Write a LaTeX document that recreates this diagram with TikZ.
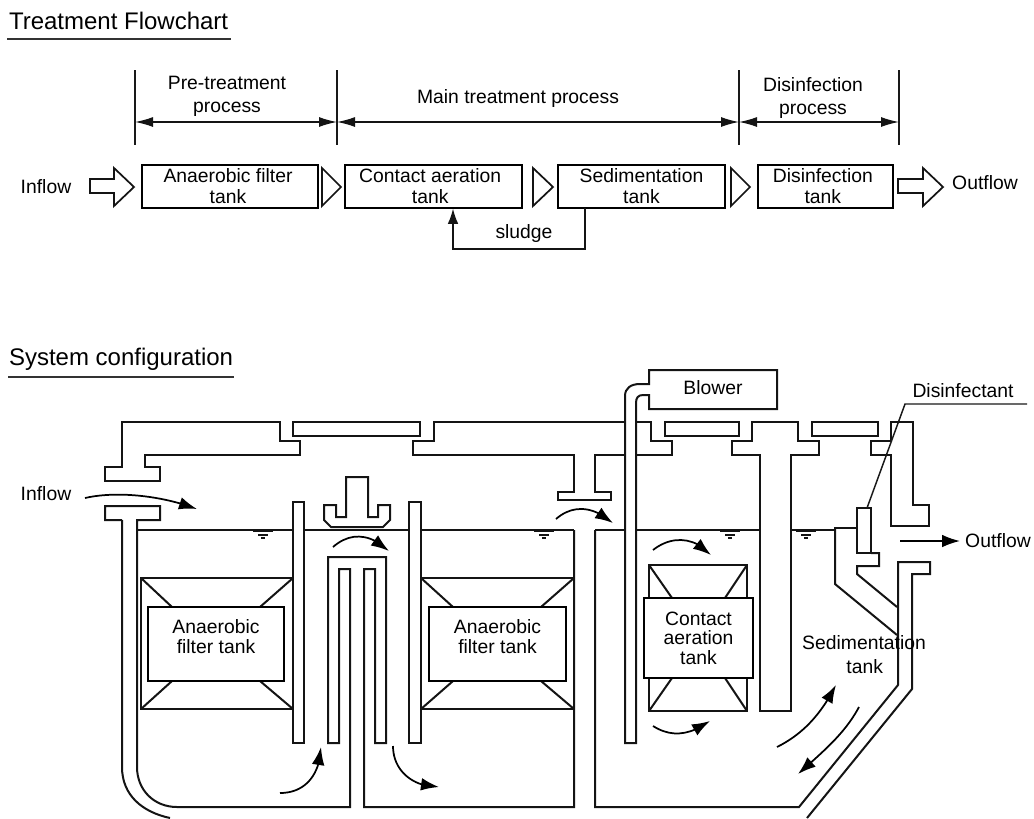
\documentclass[tikz,border=0pt]{standalone}
\usepackage{fontspec}
\setmainfont{Liberation Sans}
\usetikzlibrary{arrows.meta,bending}
\tikzset{
  x=0.75pt,y=-0.75pt,
  txt/.style={inner sep=0pt,outer sep=0pt,align=center,text=black,font=\fontsize{14.5}{15.3}\selectfont},
  toptxt/.style={txt,font=\fontsize{14.5}{17.5}\selectfont},
  titletxt/.style={inner sep=0pt,outer sep=0pt,anchor=west,text=black,font=\fontsize{18}{20}\selectfont},
  tank/.style={draw,line width=1.5pt,inner sep=0pt,outer sep=0pt,align=center,text=black,font=\fontsize{14.5}{15.8}\selectfont},
  wall/.style={line width=1.5pt,line join=miter,draw=black!92},
  thin wall/.style={line width=1.1pt,draw=black!90},
  hollow/.style={line width=1.3pt,line join=miter,draw=black!92},
  rule/.style={line width=1pt,draw=black!80},
  dim/.style={line width=1pt,draw=black!92,{Latex[length=13.5pt,width=7.5pt]}-{Latex[length=13.5pt,width=7.5pt]}},
  flowarrow/.style={line width=1.3pt,draw=black,-{Latex[length=13.5pt,width=9.5pt,flex=1]}},
  sludgeline/.style={line width=1.3pt,draw=black!92,dash pattern=on 1.2pt off 0.3pt,-{Latex[length=11.5pt,width=8pt]}},
  level/.style={line width=1pt,draw=black!92}
}
\begin{document}
\begin{tikzpicture}
\useasboundingbox (0,0) rectangle (1034,818);
% ---- titles
\node[titletxt] (t1) at (9,21) {Treatment Flowchart};
\coordinate (t1a) at (7,39); \coordinate (t1b) at (231,39);
\draw[rule] (t1a) -- (t1b);
\node[titletxt] (t2) at (9,359) {System configuration};
\coordinate (t2a) at (8,377); \coordinate (t2b) at (234,377);
\draw[rule] (t2a) -- (t2b);
% ---- dimension lines
\foreach \n/\xx in {a/135,b/337,c/739,d/899}{
  \coordinate (tick\n top) at (\xx,70);
  \coordinate (tick\n bot) at (\xx,145);
  \coordinate (tick\n mid) at (\xx,122);
  \draw[thin wall] (tick\n top) -- (tick\n bot);
}
\draw[dim] (tickamid) -- (tickbmid);
\draw[dim] (tickbmid) -- (tickcmid);
\draw[dim] (tickcmid) -- (tickdmid);
\node[toptxt] (l1) at (227,96.5) {Pre-treatment\\process};
\node[toptxt] (l2) at (518,98) {Main treatment process};
\node[toptxt] (l3) at (813,98) {Disinfection\\process};
% ---- flow boxes
\node[tank,minimum width=132pt,minimum height=32.25pt] (b1) at (230,186.5) {\hspace*{-3pt}Anaerobic filter\\\hspace*{-3pt}tank};
\node[tank,minimum width=132.75pt,minimum height=32.25pt] (b2) at (433.5,186.5) {\hspace*{-5pt}Contact aeration\\\hspace*{-5pt}tank};
\node[tank,minimum width=125.25pt,minimum height=32.25pt] (b3) at (641.5,186.5) {Sedimentation\\tank};
\node[tank,minimum width=101.25pt,minimum height=32.25pt] (b4) at (825.5,186.5) {\hspace*{-4pt}Disinfection\\\hspace*{-4pt}tank};
\node[toptxt] (inf1) at (46,187) {Inflow};
\node[toptxt] (outf1) at (985,183) {Outflow};
\node[toptxt] (sl) at (524,233) {sludge};
% hollow arrows
\draw[hollow] (90,179) -- (114,179) -- (114,168) -- (134,187) -- (114,206) -- (114,193) -- (90,193) -- cycle;
\draw[hollow] (898,179) -- (923,179) -- (923,168) -- (943,187) -- (923,206) -- (923,193) -- (898,193) -- cycle;
\draw[hollow] (322,168) -- (341,187) -- (322,206) -- cycle;
\draw[hollow] (533,168) -- (553,187) -- (533,206) -- cycle;
\draw[hollow] (731,168) -- (750,187) -- (731,206) -- cycle;
% sludge connector
\coordinate (slA) at (585,208); \coordinate (slB) at (585,249);
\coordinate (slC) at (453,249); \coordinate (slD) at (453,208.5);
\draw[sludgeline] (slA) -- (slB) -- (slC) -- (slD);
% ---- system: roof, left chamber
\draw[wall] (122,520) -- (122,767) .. controls (122,795) and (142,812) .. (170,818);
\draw[wall] (122,520) -- (105,520) -- (105,506) -- (160,506) -- (160,520) -- (137,520) -- (137,767)
  .. controls (137,790) and (154,807) .. (177,807) -- (350,807) -- (350,569) -- (339,569) -- (339,743) -- (328,743) -- (328,557) -- (386,557) -- (386,743) -- (375,743) -- (375,569) -- (364,569) -- (364,807) -- (574,807) -- (574,530);
\draw[wall] (122,422) -- (280,422) -- (280,441) -- (300,441) -- (300,455) -- (145,455) -- (145,467) -- (160,467) -- (160,481) -- (105,481) -- (105,467) -- (122,467) -- cycle;
\draw[wall] (293,422) rectangle (420,436);
\draw[wall] (625,422) -- (434,422) -- (434,441) -- (413,441) -- (413,455) -- (574,455) -- (574,492) -- (558,492) -- (558,500) -- (611,500) -- (611,492) -- (595,492) -- (595,455) -- (625,455);
% blower pipe and blower
\draw[wall] (625,743) -- (625,396) .. controls (625,388) and (631,384) .. (640,384) -- (649,384) -- (649,370) -- (777,370) -- (777,409) -- (649,409) -- (649,395) -- (643,395) .. controls (638,395) and (636,398) .. (636,403) -- (636,743) -- cycle;
\node[txt] (blower) at (713,388) {Blower};
% roof right
\draw[wall] (636,422) -- (651,422) -- (651,441) -- (672,441) -- (672,455) -- (636,455);
\draw[wall] (665,422) rectangle (739,436);
\draw[wall] (791,711) -- (791,455) -- (819,455) -- (819,441) -- (798,441) -- (798,422) -- (752,422) -- (752,441) -- (732,441) -- (732,455) -- (760,455) -- (760,711) -- cycle;
\draw[wall] (812,422) rectangle (878,436);
\draw[wall] (871,455) -- (871,441) -- (891,441) -- (891,422) -- (913,422) -- (913,505) -- (929,505) -- (929,526) -- (891,526) -- (891,455) -- cycle;
% baffles
\draw[wall] (293,502) rectangle (304,743);
\draw[wall] (409,502) rectangle (421,743);
% scoop
\draw[wall] (346,477) -- (368,477) -- (368,517) -- (378,517) -- (378,505) -- (390,505) -- (390,520) -- (383,527) -- (331,527) -- (324,520) -- (324,505) -- (336,505) -- (336,517) -- (346,517) -- cycle;
% water lines
\draw[wall] (137,530) -- (293,530);
\draw[wall] (304,530) -- (409,530);
\draw[wall] (421,530) -- (574,530);
\draw[wall] (595,530) -- (625,530);
\draw[wall] (636,530) -- (760,530);
\draw[wall] (791,530) -- (835,530) -- (835,528) -- (857,528);
% right chamber
\draw[wall] (595,530) -- (595,807) -- (799,807) -- (898,685) -- (898,562) -- (930,562) -- (930,574) -- (912,574) -- (912,689) -- (807,818);
\draw[wall] (835,528) -- (835,584) -- (897,635);
\draw[wall] (857,508) rectangle (871,553);
\draw[wall] (871,553) -- (879,553) -- (879,566) -- (857,566) -- (857,574) -- (897,607);
% filters
\draw[wall] (141,578) rectangle (293,709);
\draw[wall] (141,578) -- (172,607) (293,578) -- (260,607) (141,709) -- (172,681) (293,709) -- (260,681);
\draw[wall] (421,578) -- (574,578) (421,709) -- (574,709);
\draw[wall] (421,578) -- (453,607) (574,578) -- (541,607) (421,709) -- (453,681) (574,709) -- (541,681);
\draw[wall] (649,565) rectangle (747,711);
\draw[wall] (649,565) -- (672,598) (747,565) -- (725,598) (649,711) -- (672,678) (747,711) -- (725,678);
\node[tank,fill=white,minimum width=102pt,minimum height=55.5pt,font=\fontsize{14.5}{15}\selectfont] (f1) at (216,644) {\\[-19pt]Anaerobic\\filter tank};
\node[tank,fill=white,minimum width=102.75pt,minimum height=55.5pt,font=\fontsize{14.5}{15}\selectfont] (f2) at (497.5,644) {\\[-19pt]Anaerobic\\filter tank};
\node[tank,fill=white,minimum width=81.75pt,minimum height=60pt,font=\fontsize{14.5}{14.5}\selectfont] (f3) at (698.5,638) {Contact\\aeration\\tank};
% water level marks
\foreach \n/\xx in {p/263,q/544,r/730,s/806}{
  \draw[level] (\xx-10,531.7) -- (\xx+10,531.7);
  \draw[level] (\xx-5,535) -- (\xx+5,535);
  \draw[level] (\xx-2,538) -- (\xx+2,538);
}
% labels
\node[txt] (inf2) at (46,494) {Inflow};
\node[txt,font=\fontsize{14.5}{18}\selectfont] (sed) at (864,654.5) {Sedimentation\\\rule{1pt}{0pt}tank};
\node[txt] (disf) at (963,391) {Disinfectant};
\node[txt] (outf2) at (998,541) {Outflow};
% leader
\coordinate (ld1) at (1027,404); \coordinate (ld2) at (905,404); \coordinate (ld3) at (867,508);
\draw[thin wall] (ld1) -- (ld2) -- (ld3);
% outflow arrow
\coordinate (oa) at (900,541); \coordinate (ob) at (960,541);
\draw[flowarrow] (oa) -- (ob);
% curved arrows
\draw[flowarrow] (85,498) .. controls (115,491) and (160,495) .. (197,509);
\draw[flowarrow] (333,547) .. controls (350,532) and (370,533) .. (389,551);
\draw[flowarrow] (556,519) .. controls (572,505) and (592,505) .. (613,523);
\draw[flowarrow] (653,550) .. controls (672,535) and (695,537) .. (711,555);
\draw[flowarrow] (653,726) .. controls (672,738) and (690,735) .. (710,721);
\draw[flowarrow] (280,793) .. controls (305,793) and (320,775) .. (321,747);
\draw[flowarrow] (393,746) .. controls (393,770) and (412,787) .. (439,787);
\draw[flowarrow] (777,747) .. controls (805,733) and (822,712) .. (836,685);
\draw[flowarrow] (859,707) .. controls (845,733) and (825,750) .. (798,774);
\end{tikzpicture}
\end{document}
